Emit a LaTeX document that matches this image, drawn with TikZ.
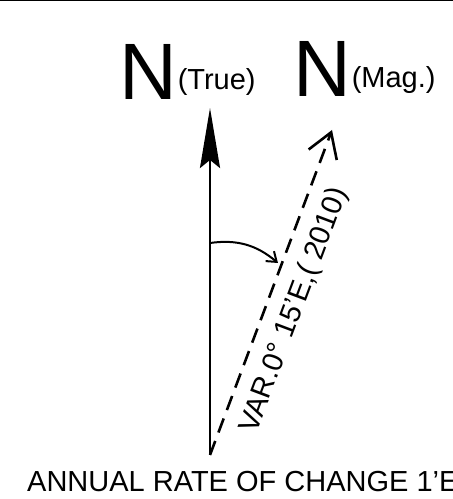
\documentclass[tikz,border=0pt]{standalone}
\usepackage{fontspec}
\setmainfont{Liberation Sans}
\usepackage{tikz}
\usetikzlibrary{arrows.meta, positioning, calc}

\begin{document}
\begin{tikzpicture}[
        x=1pt, y=1pt,
        bigN/.style={inner sep=0pt, font={\fontsize{80}{80}\selectfont}},
        lbl/.style={inner sep=0pt, font={\fontsize{29}{31}\selectfont}},
        trueline/.style={line width=2.6pt, -{Stealth[length=60pt, width=20pt, inset=8pt]}},
        magline/.style={line width=2.6pt, dash pattern=on 15pt off 9pt, -{Straight Barb[length=24pt, width=30pt, line width=2.6pt]}},
        anglearc/.style={line width=2pt, -{Straight Barb[length=9pt, width=13pt]}}
    ]
        \useasboundingbox (0,0) rectangle (453,499);
        \draw[line width=1.5pt] (0,498.5) -- (453,498.5);

        % North labels
        \node (trueN) [bigN, anchor=base] at (148.5,399) {N};
        \node (trueTxt) [lbl, anchor=base west] at ([yshift=10pt]trueN.base east) {(True)};
        \node (magN) [bigN, anchor=base] at (322.5,402) {N};
        \node (magTxt) [lbl, anchor=base west] at ([yshift=9pt]magN.base east) {(Mag.)};

        % Points
        \coordinate (base) at (210,44);
        \coordinate (trueTip) at (210,391);
        \coordinate (magTip) at (332,369);
        \coordinate (arcStart) at (210,256);
        \coordinate (arcEnd) at (278,236);

        % Arrows
        \draw [trueline] (base) -- (trueTip);
        \draw [magline] (base) -- (magTip);
        \draw [anglearc] (arcStart) to[out=8, in=140] (arcEnd);

        % Texts
        \node (var) [lbl, rotate=69.4] at (294.6,188.4) {VAR.0° 15'E,( 2010)};
        \node (rate) [lbl, anchor=base west] at (27,7) {ANNUAL RATE OF CHANGE 1{\char"27}E};
    \end{tikzpicture}
\end{document}
